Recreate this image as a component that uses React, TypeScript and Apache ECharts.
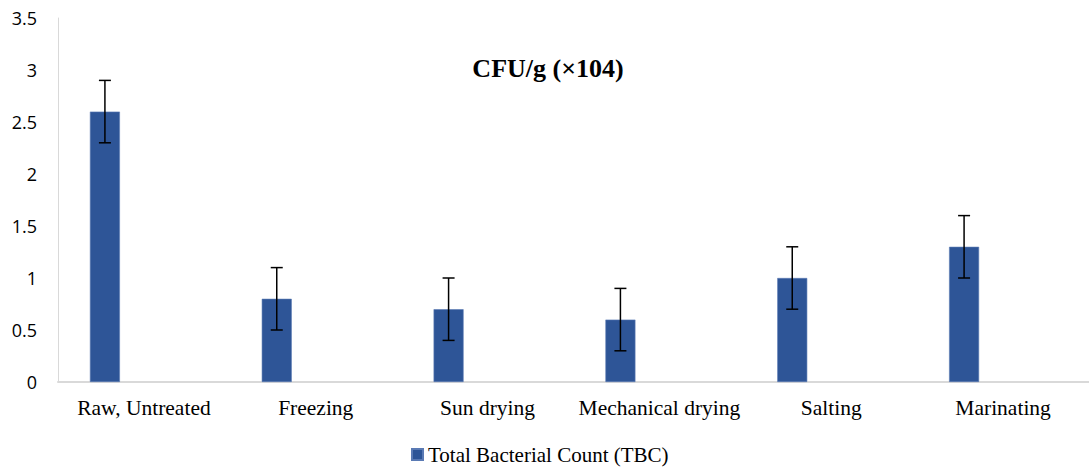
import React, { useEffect, useRef } from "react";
import * as echarts from "echarts";

const categories = ["Raw, Untreated", "Freezing", "Sun drying", "Mechanical drying", "Salting", "Marinating"];
const tbcValues = [2.6, 0.8, 0.7, 0.6, 1.0, 1.3];
const tbcErrors = [0.3, 0.3, 0.3, 0.3, 0.3, 0.3];
const yTicks = { min: 0, max: 3.5, interval: 0.5 };
const seriesName = "Total Bacterial Count (TBC)";
const chartTitle = "CFU/g (×104)";

export default function App() {
  const ref = useRef<HTMLDivElement>(null);
  useEffect(() => {
    if (!ref.current) return;
    const chart = echarts.init(ref.current, null, { renderer: "svg" });
    const errData = tbcValues.map((v, i) => [i, v - tbcErrors[i], v + tbcErrors[i]]);
    const barW = 30;
    const gapPx = 48;
    const offset = -(barW + gapPx) / 2;
    chart.setOption({
      animation: false,
      backgroundColor: "#ffffff",
      grid: { left: 58, top: 18, width: 1042, bottom: 86, containLabel: false },
      graphic: [
        {
          type: "text",
          x: 548,
          y: 68,
          style: {
            text: chartTitle,
            font: "bold 26px 'Liberation Serif', 'Times New Roman', serif",
            fill: "#000000",
            align: "center",
            verticalAlign: "middle",
          },
        },
      ],
      legend: {
        data: [seriesName],
        left: 406,
        top: 439,
        icon: "rect",
        itemWidth: 11,
        itemHeight: 11,
        textStyle: { fontFamily: "'Liberation Serif', serif", fontSize: 21, color: "#000000" },
      },
      xAxis: {
        type: "category",
        data: categories,
        axisLine: { show: true, lineStyle: { color: "#D9D9D9", width: 2 } },
        axisTick: { show: false },
        axisLabel: {
          interval: 0,
          margin: 15,
          fontFamily: "'Liberation Serif', serif",
          fontSize: 21.5,
          color: "#000000",
        },
        splitLine: { show: false },
      },
      yAxis: {
        type: "value",
        min: yTicks.min,
        max: yTicks.max,
        interval: yTicks.interval,
        axisLine: { show: true, lineStyle: { color: "#D9D9D9", width: 1 } },
        axisTick: { show: false },
        splitLine: { show: false },
        axisLabel: {
          margin: 21,
          fontFamily: "'Open Sans', sans-serif",
          fontSize: 18,
          color: "#000000",
        },
      },
      series: [
        {
          name: seriesName,
          type: "bar",
          data: tbcValues,
          barWidth: barW,
          barGap: (gapPx / barW) * 100 + "%",
          itemStyle: { color: "#2E5597", borderColor: "#5A7AB4", borderWidth: 0.6 },
          z: 2,
        },
        {
          name: "_spacer",
          type: "bar",
          data: tbcValues.map(() => null),
          barWidth: barW,
          silent: true,
        },
        {
          name: "errors",
          type: "custom",
          data: errData,
          z: 5,
          silent: true,
          renderItem: (params: any, api: any) => {
            const i = api.value(0);
            const lo = api.coord([i, api.value(1)]);
            const hi = api.coord([i, api.value(2)]);
            const x = lo[0] + offset;
            const cap = 6;
            const style = { stroke: "#000000", lineWidth: 1.5 };
            return {
              type: "group",
              children: [
                { type: "line", shape: { x1: x, y1: lo[1], x2: x, y2: hi[1] }, style },
                { type: "line", shape: { x1: x - cap, y1: lo[1], x2: x + cap, y2: lo[1] }, style },
                { type: "line", shape: { x1: x - cap, y1: hi[1], x2: x + cap, y2: hi[1] }, style },
              ],
            };
          },
        },
      ],
    });
    return () => chart.dispose();
  }, []);
  return (
    <div
      ref={ref}
      style={{ position: "fixed", left: 0, top: 0, width: 1089, height: 468, background: "#fff" }}
    />
  );
}
